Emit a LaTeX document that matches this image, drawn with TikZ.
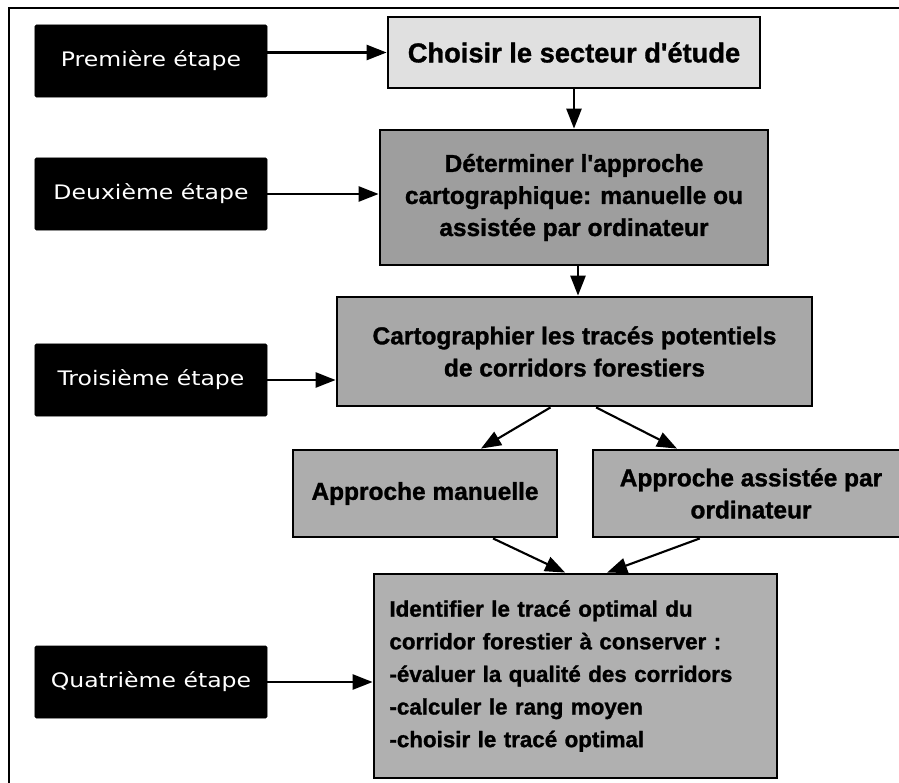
\documentclass[tikz,border=0pt]{standalone}
\usepackage{xcolor}
\usepackage{fontspec}
\setmainfont{Liberation Sans}
\newfontfamily\stepfont[FakeStretch=1.18]{DejaVu Sans}
\newfontfamily\taskfont[FakeBold=1.2]{Liberation Sans Bold}
\usepackage{tikz}
\usetikzlibrary{arrows.meta}
\definecolor{choisircolor}{HTML}{E0E0E0}
\definecolor{determinercolor}{HTML}{9E9E9E}
\definecolor{cartocolor}{HTML}{A8A8A8}
\definecolor{approchecolor}{HTML}{ADADAD}
\definecolor{identcolor}{HTML}{B0B0B0}

\begin{document}
\begin{tikzpicture}[x=0.025cm, y=-0.025cm,
  stepbox/.style={draw=black, fill=black, rectangle, rounded corners=1pt, minimum width=5.8cm, minimum height=1.8cm, text=white, font=\stepfont\fontsize{14.2pt}{17pt}\selectfont},
  taskbox/.style={draw=black, line width=2pt, rectangle, align=center, font=\taskfont\fontsize{17.4pt}{22.8pt}\selectfont},
  arrow/.style={-{Triangle[length=0.5cm, width=0.38cm]}, line width=1.5pt}]%
\useasboundingbox (0, 0) rectangle (899, 782);%
\clip (0, 0) rectangle (899, 782);%
\fill[white] (0, 0) rectangle (899, 782);%
\draw[line width=1.5pt] (9, 792) -- (9, 8) -- (905, 8);%
\node[stepbox] (premiere) at (151, 61) {Première étape};%
\node[stepbox] (deuxieme) at (151, 194) {Deuxième étape};%
\node[stepbox] (troisieme) at (151, 380) {Troisième étape};%
\node[stepbox] (quatrieme) at (151, 682) {Quatrième étape};%
\node[taskbox, fill=choisircolor, minimum width=9.3cm, minimum height=1.775cm, font=\taskfont\fontsize{19.4pt}{22.8pt}\selectfont] (choisir) at (574, 52.5) {Choisir le secteur d'étude};%
\node[taskbox, fill=determinercolor, minimum width=9.7cm, minimum height=3.375cm] (determiner) at (574, 197.5) {Déterminer l'approche\\cartographique: manuelle ou\\assistée par ordinateur};%
\node[taskbox, fill=cartocolor, minimum width=11.875cm, minimum height=2.725cm] (carto) at (574.5, 351.5) {Cartographier les tracés potentiels\\de corridors forestiers};%
\node[taskbox, fill=approchecolor, minimum width=6.6cm, minimum height=2.175cm] (manuelle) at (425, 493.5) {Approche manuelle};%
\node[taskbox, fill=approchecolor, minimum width=7.9cm, minimum height=2.175cm] (assistee) at (751, 493.5) {Approche assistée par\\ordinateur};%
\node[taskbox, fill=identcolor, minimum width=10.075cm, minimum height=5.1cm, text width=9.3cm, align=left, font=\taskfont\fontsize{15.9pt}{23.2pt}\selectfont] (identifier) at (575.5, 676) {Identifier le tracé optimal du\\corridor forestier à conserver :\\-évaluer la qualité des corridors\\-calculer le rang moyen\\-choisir le tracé optimal};%
\draw[arrow] (premiere.east |- choisir.west) -- (choisir.west);%
\draw[arrow] (deuxieme.east) -- (deuxieme.east -| determiner.west);%
\draw[arrow] (troisieme.east) -- (troisieme.east -| carto.west);%
\draw[arrow] (quatrieme.east) -- (quatrieme.east -| identifier.west);%
\draw[arrow] (choisir.south) -- (choisir.south |- determiner.north);%
\draw[arrow] ([xshift=0.1cm]determiner.south) -- ([xshift=0.1cm]determiner.south |- carto.north);%
\draw[arrow] ([xshift=-0.6cm]carto.south) -- ([xshift=1.4cm]manuelle.north);%
\draw[arrow] ([xshift=0.54cm]carto.south) -- ([xshift=-1.85cm]assistee.north);%
\draw[arrow] ([xshift=1.7cm]manuelle.south) -- ([xshift=-0.26cm]identifier.north);%
\draw[arrow] ([xshift=-1.28cm]assistee.south) -- ([xshift=0.79cm]identifier.north);%
\end{tikzpicture}
\end{document}
